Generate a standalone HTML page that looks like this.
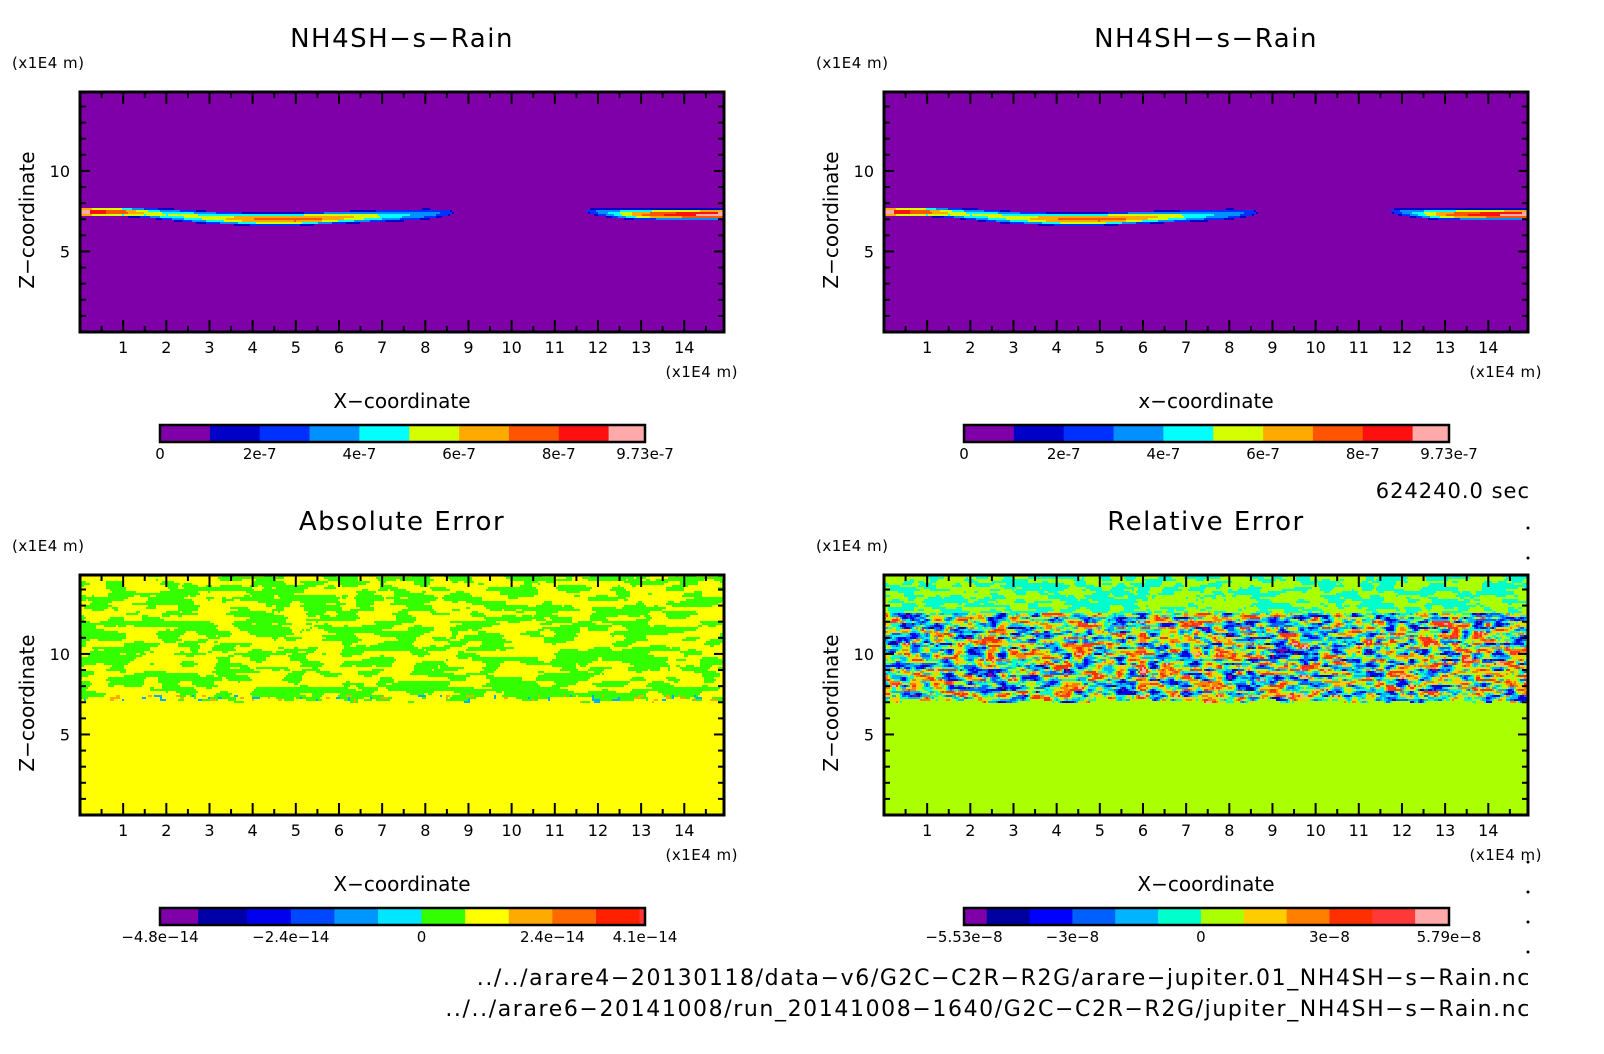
<!DOCTYPE html>
<html><head><meta charset="utf-8">
<style>
body{margin:0;background:#fff;}
#root{position:relative;width:1604px;height:1054px;overflow:hidden;background:#fff;font-family:"DejaVu Sans","Liberation Sans",sans-serif;}
canvas{position:absolute;image-rendering:pixelated;}
svg{position:absolute;left:0;top:0;}
</style></head>
<body>
<div id="root">
<canvas id="c0"></canvas>
<canvas id="c1"></canvas>
<canvas id="c2"></canvas>
<canvas id="c3"></canvas>
<svg id="s" width="1604" height="1054"></svg>
</div>
<script>
// ---- data ----
const xTicks=[1,2,3,4,5,6,7,8,9,10,11,12,13,14];
const yTicks=[5,10];
const bandX=[0,0.5,1,1.5,2,2.5,3,3.5,4,4.5,5,5.5,6,6.5,7,7.5,8,8.5,8.7,11.7,11.8,12,12.5,13,13.5,14,14.5,15];
const bandCenter=[7.45,7.45,7.45,7.4,7.3,7.2,7.1,7.05,7.0,7.0,7.0,7.05,7.1,7.15,7.2,7.25,7.3,7.4,7.45,7.5,7.5,7.45,7.35,7.3,7.3,7.3,7.3,7.3];
const bandHalf=[0.3,0.3,0.3,0.3,0.36,0.4,0.4,0.4,0.4,0.4,0.4,0.4,0.39,0.38,0.37,0.36,0.34,0.22,0.0,0.0,0.14,0.24,0.32,0.34,0.34,0.34,0.34,0.34];
const bandPeak=[9.0,7.5,6.5,5.0,4.0,4.2,4.5,5.2,6.0,6.3,6.5,6.2,5.5,4.8,4.0,3.2,2.5,1.8,1.2,1.2,1.6,2.2,4.0,6.0,7.0,7.8,8.3,8.8];
const topLevels=[0,1,2,3,4,5,6,7,8,9,9.73];
const topColors=["#7f00a8","#0000c8","#0030ff","#0090ff","#00ffff","#d4ff00","#ffaa00","#ff5500","#ff1010","#ffaaaa"];
const topLabels=[["0",0],["2e-7",2],["4e-7",4],["6e-7",6],["8e-7",8],["9.73e-7",9.73]];
const absLevels=[-4.8,-4.1,-3.2,-2.4,-1.6,-0.8,0,0.8,1.6,2.4,3.2,4.0,4.1];
const absColors=["#7f00a8","#0000a8","#0000ee","#0048ff","#0096ff","#00e6ff","#33ff00","#ffff00","#ffaa00","#ff6a00","#ff2000","#ff3636","#ffaaaa"];
const absLabels=[["\u22124.8e\u221214",-4.8],["\u22122.4e\u221214",-2.4],["0",0],["2.4e\u221214",2.4],["4.1e\u221214",4.1]];
const relLevels=[-5.53,-5,-4,-3,-2,-1,0,1,2,3,4,5,5.79];
const relColors=["#7f00a8","#0000a0","#0000ff","#0060ff","#00b4ff","#00ffcc","#aaff00","#ffcc00","#ff8000","#ff3000","#ff3838","#ffaaaa"];
const relLabels=[["\u22125.53e\u22128",-5.53],["\u22123e\u22128",-3],["0",0],["3e\u22128",3],["5.79e\u22128",5.79]];
const absNoiseZ=[6.95,14.9];
const relNoiseZ=[6.9,12.6,14.9];

const XMAX=14.92,ZMAX=14.9;
const panels=[
 {id:"c0",x:80,y:92,title:"NH4SH\u2212s\u2212Rain",xl:"X\u2212coordinate",lv:topLevels,col:topColors,lab:topLabels,kind:"band"},
 {id:"c1",x:884,y:92,title:"NH4SH\u2212s\u2212Rain",xl:"x\u2212coordinate",lv:topLevels,col:topColors,lab:topLabels,kind:"band"},
 {id:"c2",x:80,y:575,title:"Absolute Error",xl:"X\u2212coordinate",lv:absLevels,col:absColors,lab:absLabels,kind:"abs"},
 {id:"c3",x:884,y:575,title:"Relative Error",xl:"X\u2212coordinate",lv:relLevels,col:relColors,lab:relLabels,kind:"rel"}];
const PW=644,PH=240;

function interp(xa,ya,x){if(x<=xa[0])return ya[0];for(let i=1;i<xa.length;i++){if(x<=xa[i]){const t=(x-xa[i-1])/(xa[i]-xa[i-1]);return ya[i-1]+t*(ya[i]-ya[i-1]);}}return ya[ya.length-1];}
function hash(i,j,s){let h=(i*374761393+j*668265263+s*1442695041)|0;h=(h^(h>>>13))*1274126177|0;h=h^(h>>>16);return ((h>>>0)%10000)/10000;}
function vnoise(x,y,s){const i=Math.floor(x),j=Math.floor(y),fx=x-i,fy=y-j;const a=hash(i,j,s),b=hash(i+1,j,s),c=hash(i,j+1,s),d=hash(i+1,j+1,s);const u=fx*fx*(3-2*fx),v=fy*fy*(3-2*fy);return a*(1-u)*(1-v)+b*u*(1-v)+c*(1-u)*v+d*u*v;}
function colorFor(lv,col,v){for(let k=0;k<col.length;k++){if(v<lv[k+1])return col[k];}return col[col.length-1];}

const NS="http://www.w3.org/2000/svg";
const svg=document.getElementById("s");
function el(tag,attrs,txt){const e=document.createElementNS(NS,tag);for(const k in attrs)e.setAttribute(k,attrs[k]);if(txt!==undefined)e.textContent=txt;svg.appendChild(e);return e;}

panels.forEach((p,pi)=>{
 const cv=document.getElementById(p.id);
 cv.width=PW/2;cv.height=PH/2;cv.style.left=p.x+"px";cv.style.top=p.y+"px";cv.style.width=PW+"px";cv.style.height=PH+"px";
 const ctx=cv.getContext("2d");
 const sx=x=>p.x+x/XMAX*PW, sy=z=>p.y+PH-z/ZMAX*PH;
 for(let i=0;i<cv.width;i++)for(let j=0;j<cv.height;j++){
  const x=(i+0.5)/cv.width*XMAX, z=(1-(j+0.5)/cv.height)*ZMAX; let v, c;
  if(p.kind==="band"){
   const cz=interp(bandX,bandCenter,x),h=interp(bandX,bandHalf,x),pk=interp(bandX,bandPeak,x);
   const d=Math.abs(z-cz); v=(h>0&&d<h)?pk*(1-Math.pow(d/h,2))+1.0:0;
   c=colorFor(p.lv,p.col,v);
  } else if(p.kind==="abs"){
   if(z<absNoiseZ[0]+0.3*vnoise(x*3,0,5)){c="#ffff00";}
   else{const n=vnoise(x*2.4,z*3.2,7)*0.7+vnoise(x*6,z*7,11)*0.3;
    if(z<absNoiseZ[0]+0.45){const m=vnoise(x*8,z*8,3);c=m>0.82?"#ffaa00":(m<0.12?"#00b0ff":(n>0.5?"#33ff00":"#ffff00"));}
    else c=n>0.5?"#33ff00":"#ffff00";}
  } else {
   if(z<relNoiseZ[0]+0.3*vnoise(x*3,0,9)){c="#aaff00";}
   else if(z>relNoiseZ[1]){const n=vnoise(x*3.5,z*4,13)*0.6+vnoise(x*8,z*8,17)*0.4;c=n>0.5?"#00ffcc":"#aaff00";}
   else{const n=vnoise(x*4,z*5,19)*0.65+vnoise(x*9,z*10,23)*0.35; v=(n-0.5)*14;
    c=colorFor(p.lv,p.col,v);}
  }
  ctx.fillStyle=c;ctx.fillRect(i,j,1,1);
 }
 el("rect",{x:p.x,y:p.y,width:PW,height:PH,fill:"none",stroke:"#000","stroke-width":3,});
 for(let t=0.5;t<XMAX;t+=0.5){const X=sx(t),L=(t%1===0)?12:6;
  el("line",{x1:X,x2:X,y1:p.y+PH,y2:p.y+PH-L,stroke:"#000","stroke-width":2});
  el("line",{x1:X,x2:X,y1:p.y,y2:p.y+L,stroke:"#000","stroke-width":2});}
 for(let t=1;t<ZMAX;t+=1){const Y=sy(t),L=(t%5===0)?10:6;
  el("line",{x1:p.x,x2:p.x+L,y1:Y,y2:Y,stroke:"#000","stroke-width":2});
  el("line",{x1:p.x+PW,x2:p.x+PW-L,y1:Y,y2:Y,stroke:"#000","stroke-width":2});}
 xTicks.forEach(t=>{const e=el("text",{x:sx(t),y:p.y+PH+21,"font-size":16,"text-anchor":"middle"},String(t));
  
  });
 yTicks.forEach(t=>{const e=el("text",{x:p.x-10,y:sy(t)+6,"font-size":16,"text-anchor":"end"},String(t));
  
  });
 el("text",{x:p.x+PW/2,y:p.y-45,"font-size":26,"letter-spacing":1.5,"text-anchor":"middle",},p.title);
 el("text",{x:p.x-68,y:p.y-24,"font-size":15,"letter-spacing":0.5,},"(x1E4 m)");
 el("text",{x:p.x+PW+14,y:p.y+PH+45,"font-size":15,"letter-spacing":0.5,"text-anchor":"end",},"(x1E4 m)");
 el("text",{x:p.x+PW/2,y:p.y+PH+76,"font-size":20,"text-anchor":"middle",},p.xl);
 el("text",{x:0,y:0,"font-size":20,"text-anchor":"middle",transform:`translate(${p.x-46},${p.y+PH/2+8}) rotate(-90)`,},"Z\u2212coordinate");
 const bx0=p.x+80,bx1=p.x+565,by=p.y+333,bh=17;
 const lo=p.lv[0],hi=p.lv[p.lv.length-1],bsx=v=>bx0+(v-lo)/(hi-lo)*(bx1-bx0);
 p.col.forEach((c,k)=>{const r=el("rect",{x:bsx(p.lv[k]),y:by,width:bsx(p.lv[k+1])-bsx(p.lv[k])+0.5,height:bh,fill:c});
  
  });
 el("rect",{x:bx0,y:by,width:bx1-bx0,height:bh,fill:"none",stroke:"#000","stroke-width":2.5,});
 p.lab.forEach(([t,v])=>{const e=el("text",{x:bsx(v),y:by+bh+17,"font-size":15,"text-anchor":"middle"},t);
  
  });
});
el("text",{x:1530,y:498,"font-size":21,"letter-spacing":1,"text-anchor":"end",},"624240.0 sec");
el("text",{x:1531,y:985,"font-size":22,"letter-spacing":1.6,"text-anchor":"end",},"../../arare4\u221220130118/data\u2212v6/G2C\u2212C2R\u2212R2G/arare\u2212jupiter.01_NH4SH\u2212s\u2212Rain.nc");
el("text",{x:1531,y:1016,"font-size":22,"letter-spacing":1.6,"text-anchor":"end",},"../../arare6\u221220141008/run_20141008\u22121640/G2C\u2212C2R\u2212R2G/jupiter_NH4SH\u2212s\u2212Rain.nc");
[528,558,862,892,922,952].forEach(y=>{el("circle",{cx:1528,cy:y,r:1.5,fill:"#000",});});
</script>
</body></html>
